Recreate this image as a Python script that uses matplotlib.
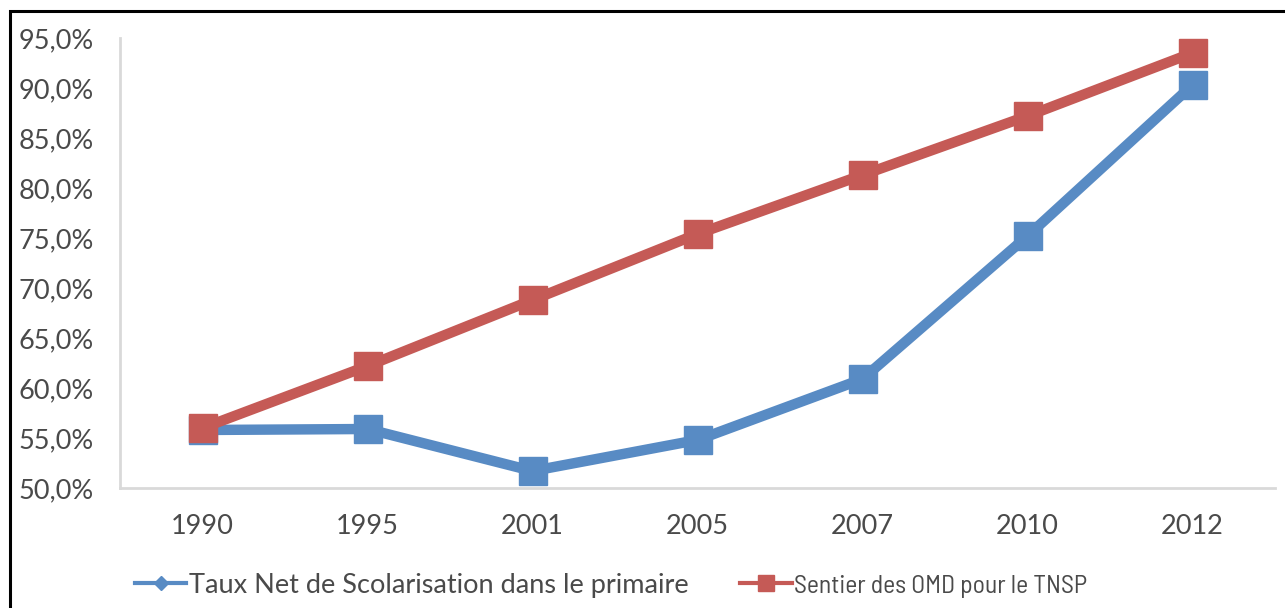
import matplotlib
matplotlib.use("Agg")
import matplotlib.pyplot as plt
from matplotlib.lines import Line2D
from matplotlib.patches import Rectangle

years = ["1990", "1995", "2001", "2005", "2007", "2010", "2012"]
tnsp = [55.8, 55.9, 51.7, 54.8, 60.9, 75.2, 90.3]
sentier_omd = [56.0, 62.2, 68.8, 75.4, 81.3, 87.2, 93.5]
yticks = [50, 55, 60, 65, 70, 75, 80, 85, 90, 95]
labels = ["Taux Net de Scolarisation dans le primaire", "Sentier des OMD pour le TNSP"]

blue = "#588BC4"
red = "#C55A56"
grey_txt = "#4A4A4A"
axis_col = "#D9D9D9"
fs = 19.5

plt.rcParams["font.family"] = ["Lato", "DejaVu Sans"]

fig = plt.figure(figsize=(12.85, 6.08), dpi=100)
ax = fig.add_axes([120 / 1285, 1 - 488 / 608, (1275 - 120) / 1285, (488 - 38) / 608])

x = range(len(years))
ax.plot(x, tnsp, color=blue, lw=7.5, marker="s", ms=20, solid_joinstyle="miter", zorder=3)
ax.plot(x, sentier_omd, color=red, lw=7.5, marker="s", ms=20, solid_joinstyle="miter", zorder=4)

ax.set_xlim(-0.5, len(years) - 0.5)
ax.set_ylim(50, 95)
ax.set_xticks(list(x))
ax.set_xticklabels(years)
ax.set_yticks(yticks)
ax.set_yticklabels([f"{v:.1f}%".replace(".", ",") for v in yticks])
ax.tick_params(axis="both", length=0, labelsize=fs, colors=grey_txt)
ax.tick_params(axis="y", pad=19)
ax.tick_params(axis="x", pad=19)

for side in ("top", "right"):
    ax.spines[side].set_visible(False)
for side in ("left", "bottom"):
    ax.spines[side].set_color(axis_col)
    ax.spines[side].set_linewidth(2)

handles = [
    Line2D([], [], color=blue, lw=3, marker="D", ms=7),
    Line2D([], [], color=red, lw=3, marker="s", ms=11),
]
leg = fig.legend(handles, labels, loc="center left", bbox_to_anchor=(135 / 1285, 1 - 585 / 608),
                 ncol=2, frameon=False, fontsize=fs, handlelength=1.9, handletextpad=0.1,
                 columnspacing=1.9, labelcolor=grey_txt, borderaxespad=0, borderpad=0)
# second entry is set in a narrower face
leg.get_texts()[1].set_fontfamily(["Barlow Semi Condensed", "Lato"])
leg.get_texts()[1].set_fontsize(18.5)

# outer frame: only top and left edges fall inside the image
fig.add_artist(Rectangle((10 / 1285, -0.1), 1.2, 1 - 11 / 608 + 0.1,
                         transform=fig.transFigure, fill=False, ec="black", lw=2.2))

fig.savefig("out.png", dpi=100)
